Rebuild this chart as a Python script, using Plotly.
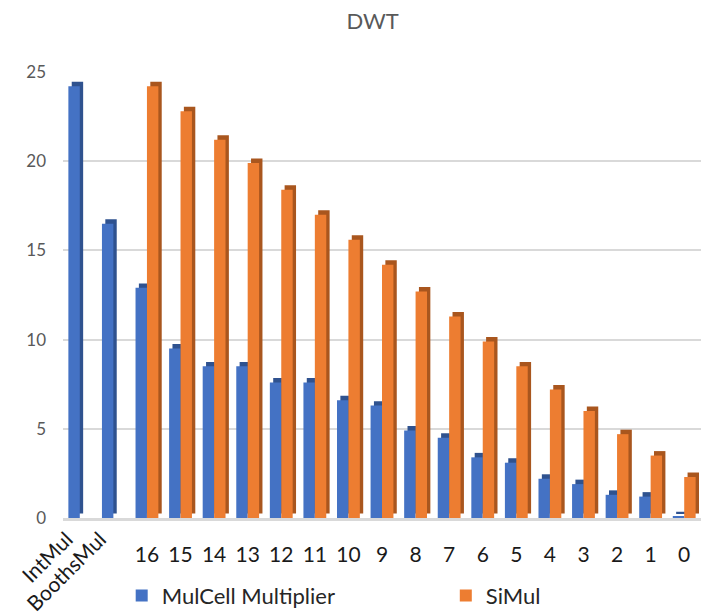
import plotly.graph_objects as go

# Category labels along the x axis
categories = ["IntMul", "BoothsMul", "16", "15", "14", "13", "12", "11", "10",
              "9", "8", "7", "6", "5", "4", "3", "2", "1", "0"]

# Series values
mulcell = [24.2, 16.5, 12.9, 9.5, 8.5, 8.5, 7.6, 7.6, 6.6, 6.3, 4.9, 4.5,
           3.4, 3.1, 2.2, 1.9, 1.3, 1.2, 0.1]
simul = [None, None, 24.2, 22.8, 21.2, 19.9, 18.4, 17.0, 15.6, 14.2, 12.7,
         11.3, 9.9, 8.5, 7.2, 6.0, 4.7, 3.5, 2.3]

y_ticks = [0, 5, 10, 15, 20, 25]

BLUE, BLUE_DARK = "#4472C4", "#2F528F"
ORANGE, ORANGE_DARK = "#ED7D31", "#A9561E"
BAR_W = 0.34
DEPTH_X = 0.1   # horizontal shift of the side face
DEPTH_Y = 0.25  # vertical rise of the side face / top cap

FONT = "Lato"
LEGEND_FONT = dict(family=FONT, size=22, color="#262626")

fig = go.Figure()

# darker side faces drawn behind the front faces for a 3D look
for vals, off, col in [(mulcell, -BAR_W, BLUE_DARK), (simul, 0.0, ORANGE_DARK)]:
    fig.add_trace(go.Bar(
        x=categories, y=vals, base=DEPTH_Y, offset=off + DEPTH_X, width=BAR_W,
        marker=dict(color=col, line=dict(width=0)),
        showlegend=False, hoverinfo="skip",
    ))

# front faces, each with its own legend box so the two entries sit far apart
fig.add_trace(go.Bar(
    x=categories, y=mulcell, name="MulCell Multiplier", offset=-BAR_W, width=BAR_W,
    marker=dict(color=BLUE, line=dict(color=BLUE_DARK, width=0)),
    legend="legend",
))
fig.add_trace(go.Bar(
    x=categories, y=simul, name="SiMul", offset=0.0, width=BAR_W,
    marker=dict(color=ORANGE, line=dict(color=ORANGE_DARK, width=0)),
    legend="legend2",
))

# tick text: numeric categories horizontal, the two named ones rotated separately
tick_text = ["" if c in ("IntMul", "BoothsMul") else c for c in categories]

for c in ("IntMul", "BoothsMul"):
    fig.add_annotation(
        x=c, y=0, xref="x", yref="y", text=c, showarrow=False,
        textangle=-45, xanchor="right", yanchor="top",
        xshift=0, yshift=-5,
        font=dict(family=FONT, size=21, color="#1a1a1a"),
    )

fig.update_layout(
    width=703, height=614,
    margin=dict(l=63, r=2, t=72, b=96, autoexpand=False),
    paper_bgcolor="white", plot_bgcolor="white",
    barmode="overlay",
    title=dict(text="DWT", x=0.53, xanchor="center", y=0.965, yanchor="middle",
               font=dict(family=FONT, size=22, color="#595959")),
    legend=dict(orientation="h", x=0.092, xanchor="left",
                yref="container", y=0.03, yanchor="middle",
                font=LEGEND_FONT),
    legend2=dict(orientation="h", x=0.6, xanchor="left",
                 yref="container", y=0.03, yanchor="middle",
                 font=LEGEND_FONT),
    showlegend=True,
)

fig.update_xaxes(
    type="category", categoryorder="array", categoryarray=categories,
    tickmode="array", tickvals=categories, ticktext=tick_text,
    tickfont=dict(family=FONT, size=21, color="#1a1a1a"),
    showline=True, linecolor="#d9d9d9", linewidth=3,
    showgrid=False, ticks="", ticklabelstandoff=16,
    range=[-0.5, 18.5], fixedrange=True, automargin=False,
)
fig.update_yaxes(
    range=[0, 25], tickmode="array", tickvals=y_ticks,
    tickfont=dict(family=FONT, size=17, color="#595959"),
    showgrid=True, gridcolor="#d9d9d9", gridwidth=2,
    zeroline=False, showline=False, ticks="", ticklabelstandoff=16,
    fixedrange=True, automargin=False,
)

fig.write_html("out.html")
